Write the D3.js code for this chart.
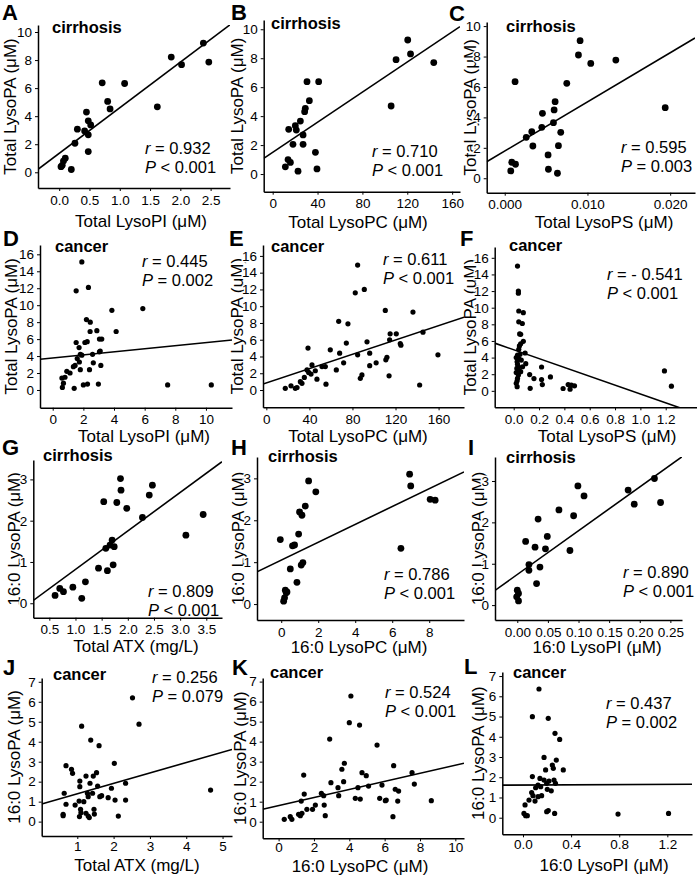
<!DOCTYPE html>
<html><head><meta charset="utf-8">
<script src="https://cdn.jsdelivr.net/npm/d3@7"></script>
<style>
body{margin:0;background:#fff}
text{font-family:Arial,"Liberation Sans",Helvetica,sans-serif;fill:#000}
</style></head>
<body><svg id="c" width="697" height="876"></svg>
<script>
// ---------- DATA ----------
const panelLetters = ["A","B","C","D","E","F","G","H","I","J","K","L"];
const groupLabels = ["cirrhosis","cirrhosis","cirrhosis","cancer","cancer","cancer","cirrhosis","cirrhosis","cirrhosis","cancer","cancer","cancer"];
const xTitles = ["Total LysoPI (μM)","Total LysoPC (μM)","Total LysoPS (μM)","Total LysoPI (μM)","Total LysoPC (μM)","Total LysoPS (μM)","Total ATX (mg/L)","16:0 LysoPC (μM)","16:0 LysoPI (μM)","Total ATX (mg/L)","16:0 LysoPC (μM)","16:0 LysoPI (μM)"];
const yTitles = ["Total LysoPA (μM)","Total LysoPA (μM)","Total LysoPA (μM)","Total LysoPA (μM)","Total LysoPA (μM)","Total LysoPA (μM)","16:0 LysoPA (μM)","16:0 LysoPA (μM)","16:0 LysoPA (μM)","16:0 LysoPA (μM)","16:0 LysoPA (μM)","16:0 LysoPA (μM)"];
const rTexts = ["0.932","0.710","0.595","0.445","0.611","- 0.541","0.809","0.786","0.890","0.256","0.524","0.437"];
const pOps = ["<","<","=","=","<","<","<","<","<","=","<","="];
const pVals = ["0.001","0.001","0.003","0.002","0.001","0.001","0.001","0.001","0.001","0.079","0.001","0.002"];
const fitSlopes = [3.25,0.052,323,0.182,0.0427,-5.32,0.932,0.213,10.58,0.522,0.202,0.0255];
const fitIntercepts = [1.35,1.5,1.79,3.77,0.84,4.94,-0.112,1.05,0.74,0.87,0.8,1.615];

const xTicksA=[0,0.5,1,1.5,2,2.5], xTicksB=[0,40,80,120,160], xTicksC=[0,0.01,0.02];
const xTicksD=[0,2,4,6,8,10], xTicksE=[0,40,80,120,160], xTicksF=[0,0.2,0.4,0.6,0.8,1.0,1.2];
const xTicksG=[0.5,1,1.5,2,2.5,3,3.5], xTicksH=[0,2,4,6,8], xTicksI=[0,0.05,0.1,0.15,0.2,0.25];
const xTicksJ=[1,2,3,4,5], xTicksK=[0,2,4,6,8,10], xTicksL=[0,0.4,0.8,1.2];
const yTicksTop=[0,2,4,6,8,10], yTicksMid=[0,2,4,6,8,10,12,14,16], yTicks3=[0,1,2,3], yTicks4=[0,1,2,3,4,5,6,7];

const aX=[0.03,0.07,0.10,0.05,0.20,0.26,0.30,0.42,0.45,0.48,0.52,0.48,0.48,0.71,0.80,0.84,1.08,1.62,1.85,2.02,2.38,2.47];
const aY=[0.40,0.80,1.00,0.50,0.20,2.07,3.07,2.95,4.29,3.67,3.38,2.67,1.48,6.38,5.05,4.52,6.33,4.67,8.21,7.67,9.21,7.86];
const bX=[11.3,13.7,15.8,22.6,18.1,14.3,20.2,21.1,24.7,27.1,27.1,28.5,29.1,30.6,32.7,38.1,39.5,41,105.6,110,120.4,122.9,143.6];
const bY=[0.5,1.0,0.8,0.2,2.05,3.09,3.34,3.04,3.66,2.7,2.05,4.31,4.54,6.38,5.07,1.5,0.35,6.38,4.7,7.9,9.26,8.3,7.7];
const cX=[0.00073,0.00085,0.0013,0.00125,0.0026,0.00327,0.0034,0.00456,0.00448,0.00524,0.00528,0.00589,0.00597,0.00609,0.00637,0.00649,0.00677,0.0075,0.00891,0.00911,0.0104,0.01343,0.0194];
const cY=[0.48,1.05,0.92,6.35,2.69,3.06,2.12,4.27,3.35,1.53,0.59,3.65,4.49,5.03,0.33,2.14,3.02,6.24,8.1,9.04,7.55,7.77,4.64];
const dX=[1.9,1.53,2.33,3.86,5.88,2.2,2.45,2.44,2.88,4.14,1.53,2.1,2.25,1.72,3.05,3.2,3.1,3.05,1.8,1.9,1.6,2.6,1.74,2.65,3.14,1.35,1.46,0.92,1.13,0.8,0.6,0.7,0.63,1.8,2.4,1.4,2.0,2.27,2.98,7.5,10.35];
const dY=[15.1,11.7,12.1,9.4,9.6,8.3,8.0,6.9,7.0,6.9,5.6,5.6,5.7,5.0,6.0,6.0,4.6,4.5,4.2,4.1,3.7,4.2,3.3,3.2,2.9,2.75,2.9,2.2,2.0,1.5,1.4,0.8,0.3,2.4,2.4,0.2,0.6,0.7,0.7,0.6,0.6];
const eX=[17.6,22.9,26.9,28.5,31.6,33.1,35.3,37.8,39.3,41.5,42.4,45.5,47.0,38.7,51.7,54.8,55.4,59.4,65,67.2,68.1,71.8,74.3,75.8,82.6,84.8,84.8,87.3,88.8,91,93.5,96,96,102,110.5,111,112,114,114.5,115,120.7,124.4,125,136.2,142.4,145.5,159.4];
const eY=[0.2,0.5,0.2,0.3,1.0,0.8,1.5,2.4,2.1,1.9,3.0,2.3,1.3,5.0,2.8,2.8,0.7,4.8,2.4,8.2,4.4,3.25,5.6,7.9,11.6,14.9,4.2,1.4,1.8,12.0,5.75,4.4,2.9,3.25,9.5,3.6,3.9,1.7,6.0,6.7,6.7,5.55,5.35,9.3,0.6,6.9,4.2];
const fX=[0.03,0.037,0.037,0.04,0.076,0.04,0.068,0.047,0.055,0.076,0.055,0.09,0.04,0.03,0.04,0.027,0.037,0.04,0.037,0.027,0.027,0.06,0.07,0.055,0.095,0.126,0.16,0.13,0.22,0.22,0.226,0.29,0.39,0.43,0.445,0.455,0.48,1.19,1.245,0.02,0.03,0.02,0.03,0.02,0.025,0.05,0.045];
const fY=[15.0,12.0,11.75,9.6,9.4,8.3,8.1,6.85,6.8,5.95,5.65,4.55,5.0,4.3,3.9,3.5,2.9,2.5,1.9,1.2,0.5,3.7,2.9,2.3,3.27,1.95,1.47,0.3,2.87,1.35,0.75,1.67,0.28,0.75,0.2,0.68,0.6,2.4,0.56,4.0,3.2,2.2,1.5,0.9,2.7,4.4,5.4];
const gX=[0.61,0.70,0.77,0.95,1.12,1.19,1.44,1.54,1.58,1.61,1.66,1.70,1.72,1.74,1.79,1.86,1.87,1.98,2.28,2.41,2.47,3.11,3.44];
const gY=[0.19,0.36,0.28,0.39,0.12,0.52,0.85,2.46,1.33,0.79,1.41,1.53,0.93,1.37,2.44,3.02,2.74,2.3,2.08,2.62,2.86,1.65,2.15];
const hX=[-0.05,0.13,0.18,0.27,0.22,0.31,0.49,0.61,0.72,0.85,0.94,0.99,1.12,1.08,1.17,1.3,1.48,1.87,6.47,6.94,7.0,8.05,8.32];
const hY=[1.54,0.07,0.15,0.27,0.33,0.29,0.84,1.39,1.41,0.52,1.67,2.2,2.12,0.93,0.99,2.34,2.94,2.68,1.33,3.1,2.82,2.5,2.48];
const iX=[0.0,0.002,-0.001,0.002,0.0136,0.019,0.019,0.029,0.0315,0.034,0.037,0.046,0.049,0.068,0.086,0.092,0.099,0.109,0.181,0.191,0.224,0.234];
const iY=[0.36,0.28,0.2,0.1,1.54,0.98,0.84,1.4,0.52,2.08,0.92,1.36,1.66,2.3,1.32,2.16,2.88,2.64,2.78,2.44,3.06,2.48];
const jX=[0.61,0.61,0.64,0.69,0.69,0.84,0.87,0.94,1.05,1.06,1.07,1.07,1.09,1.1,1.12,1.18,1.24,1.24,1.28,1.3,1.3,1.33,1.35,1.37,1.42,1.44,1.46,1.47,1.53,1.56,1.6,1.62,1.67,1.85,1.94,2.02,2.04,2.13,2.33,2.33,2.52,2.7,4.67];
const jY=[0.37,0.3,1.42,0.87,2.8,2.62,2.42,0.83,1.03,0.25,2.03,1.75,0.62,0.45,4.78,1.0,2.28,0.42,1.42,1.25,0.28,0.2,1.92,4.08,1.42,2.28,0.62,0.38,2.45,1.78,3.8,1.25,1.3,1.2,1.67,2.92,1.08,0.28,1.92,1.08,6.2,4.88,1.58];
const kX=[0.32,0.66,0.75,1.13,1.23,1.32,1.28,1.42,1.45,1.6,1.92,2.08,2.42,2.55,2.58,2.64,2.89,2.96,3.36,3.4,3.58,3.72,3.68,4.0,4.09,4.34,4.49,4.58,4.62,4.72,4.96,5.09,5.57,5.72,5.85,6.04,6.09,6.51,6.47,6.6,6.79,6.74,7.55,7.68,8.64];
const kY=[0.12,0.25,0.12,0.37,0.3,0.42,1.03,2.33,1.38,0.62,0.62,0.83,1.42,1.3,0.83,0.3,4.13,1.95,1.7,1.3,2.62,2.92,2.0,4.95,6.28,1.17,1.7,4.83,1.13,2.45,2.3,1.78,3.83,1.17,1.83,1.05,1.08,2.8,0.25,1.62,1.53,1.03,2.45,1.88,1.05];
const lX=[0.133,0.078,0.21,0.266,0.305,0.175,0.277,0.188,0.244,0.252,0.335,0.078,0.141,0.175,0.216,0.258,0.27,0.125,0.197,0.105,0.147,0.202,0.235,0.072,0.083,0.155,0.125,0.05,0.1,0.017,0.008,0.022,0.036,0.197,0.21,0.263,0.79,1.21];
const lY=[6.36,4.99,4.91,4.17,3.87,2.98,2.85,2.36,2.6,2.44,2.36,2.03,1.94,1.86,1.81,1.86,1.7,1.61,1.7,1.48,1.53,1.4,1.33,1.24,1.09,1.09,1.04,0.87,0.82,0.63,0.21,0.1,0.1,0.3,0.35,0.21,0.18,0.21];

const seriesX=[aX,bX,cX,dX,eX,fX,gX,hX,iX,jX,kX,lX];
const seriesY=[aY,bY,cY,dY,eY,fY,gY,hY,iY,jY,kY,lY];
const xTickSets=[xTicksA,xTicksB,xTicksC,xTicksD,xTicksE,xTicksF,xTicksG,xTicksH,xTicksI,xTicksJ,xTicksK,xTicksL];
const yTickSets=[yTicksTop,yTicksTop,yTicksTop,yTicksMid,yTicksMid,yTicksMid,yTicks3,yTicks3,yTicks3,yTicks4,yTicks4,yTicks4];

// ---------- LAYOUT (pixels, scale domains, styles) ----------
const layout=[
 {box:[38,25,230,188],   xd:[-0.35,2.82],   yd:[-1.12,10.5], fmt:".1f", r:3.4, L:[2,20],   G:[52,33],   S:[145,154], yT:10,  xT:[141,227], pad:4},
 {box:[263.7,20,460,191.7],xd:[-8,167],    yd:[-1.22,10.64],fmt:"d",   r:3.4, L:[231,20], G:[271,29],  S:[372,157], yT:237, xT:[358,228], pad:4},
 {box:[486.7,22,695,192.7],xd:[-0.00218,0.023],yd:[-0.95,10.27],fmt:".3f",r:3.4,L:[449,20.5],G:[506,32],S:[621,153], yT:470, xT:[604,228], pad:4},
 {box:[40,245,232,407.7],  xd:[-0.83,11.7], yd:[-2.09,17.1], fmt:"d",   r:2.6, L:[3,246],  G:[55,252],  S:[142,267], yT:11,  xT:[144,442], pad:4},
 {box:[263,245,464,407.3], xd:[-3.1,183.6], yd:[-2.06,17.3], fmt:"d",   r:2.6, L:[229,246],G:[271,252], S:[383,265], yT:237, xT:[358,442], pad:4},
 {box:[494.7,247,697,407.3],xd:[-0.15,1.447],yd:[-1.98,17.3],fmt:".1f", r:2.6, L:[460,246],G:[509,251], S:[607,280], yT:470, xT:[607,442], pad:4},
 {box:[33.3,460,222,617.7],xd:[0.194,3.8],  yd:[-0.35,3.47], fmt:".1f", r:3.4, L:[2,455],  G:[43,461],  S:[148,597], yT:14,  xT:[136,652], pad:4},
 {box:[257,457,464,620],   xd:[-1.31,9.88], yd:[-0.38,3.51], fmt:"d",   r:3.4, L:[231,455],G:[268,462], S:[384,580], yT:238, xT:[359,653], pad:4},
 {box:[495,457,682,620],   xd:[-0.0364,0.269],yd:[-0.36,3.58],fmt:".2f",r:3.4, L:[468,455],G:[506,463], S:[623,578], yT:478, xT:[597,653], pad:4},
 {box:[41.7,678,232,836],  xd:[0.02,5.26],  yd:[-0.72,7.19], fmt:"d",   r:2.6, L:[3,675],  G:[53,680],  S:[152,683], yT:14,  xT:[137,871], pad:2},
 {box:[262.7,678,464,838.3],xd:[-0.9,10.49],yd:[-0.83,7.18], fmt:"d",   r:2.6, L:[232,675],G:[270,678], S:[385,698], yT:240, xT:[360,871.5], pad:1.5},
 {box:[502.3,672,692,834.3],xd:[-0.172,1.405],yd:[-0.82,7.2],fmt:".1f", r:2.6, L:[464,674],G:[513,678], S:[606,709], yT:478, xT:[604,871], pad:2.5}
];

const svg=d3.select("#c");
const defs=svg.append("defs");

layout.forEach((p,i)=>{
  const [l,t,r,b]=p.box;
  const x=d3.scaleLinear().domain(p.xd).range([l,r]);
  const y=d3.scaleLinear().domain(p.yd).range([b,t]);
  const g=svg.append("g");

  g.append("text").attr("transform",`translate(${p.yT},${(t+b)/2}) rotate(-90)`)
    .attr("text-anchor","middle").attr("dy","0.36em").attr("font-size",17).text(yTitles[i]);
  g.append("text").attr("x",p.xT[0]).attr("y",p.xT[1]).attr("text-anchor","middle")
    .attr("font-size",17).text(xTitles[i]);

  defs.append("clipPath").attr("id","clip"+i).append("rect")
    .attr("x",l).attr("y",t).attr("width",r-l).attr("height",b-t);

  g.append("g").selectAll("circle").data(seriesX[i].map((v,k)=>[v,seriesY[i][k]])).join("circle")
    .attr("cx",d=>x(d[0])).attr("cy",d=>y(d[1])).attr("r",p.r).attr("fill","#000");

  const xd=p.xd;
  g.append("line").attr("clip-path",`url(#clip${i})`)
    .attr("x1",x(xd[0])).attr("y1",y(fitSlopes[i]*xd[0]+fitIntercepts[i]))
    .attr("x2",x(xd[1])).attr("y2",y(fitSlopes[i]*xd[1]+fitIntercepts[i]))
    .attr("stroke","#000").attr("stroke-width",1.6);

  const fmt=d3.format(p.fmt);
  const ax=g.append("g").attr("transform",`translate(0,${b})`)
    .call(d3.axisBottom(x).tickValues(xTickSets[i]).tickFormat(fmt).tickSize(3).tickSizeOuter(0).tickPadding(p.pad));
  const ay=g.append("g").attr("transform",`translate(${l},0)`)
    .call(d3.axisLeft(y).tickValues(yTickSets[i]).tickFormat(d3.format("d")).tickSize(3).tickSizeOuter(0).tickPadding(3));
  [ax,ay].forEach(a=>{
    a.select(".domain").attr("stroke","#000").attr("stroke-width",1.5);
    a.selectAll(".tick line").attr("stroke","#000").attr("stroke-width",1);
    a.selectAll(".tick text").attr("font-size",13.5).attr("fill","#000")
      .attr("font-family","Arial,'Liberation Sans',Helvetica,sans-serif");
  });
  ay.selectAll(".tick text").attr("stroke","#fff").attr("stroke-width",3).attr("paint-order","stroke");

  g.append("text").attr("x",p.L[0]).attr("y",p.L[1]).attr("font-size",22).attr("font-weight","bold").text(panelLetters[i]);
  g.append("text").attr("x",p.G[0]).attr("y",p.G[1]).attr("font-size",16.5).attr("font-weight","bold").text(groupLabels[i]);
  const s1=g.append("text").attr("x",p.S[0]).attr("y",p.S[1]).attr("font-size",16.5);
  s1.append("tspan").attr("font-style","italic").text("r");
  s1.append("tspan").text(" = "+rTexts[i]);
  const s2=g.append("text").attr("x",p.S[0]).attr("y",p.S[1]+19).attr("font-size",16.5);
  s2.append("tspan").attr("font-style","italic").text("P");
  s2.append("tspan").text(" "+pOps[i]+" "+pVals[i]);
});
</script></body></html>
